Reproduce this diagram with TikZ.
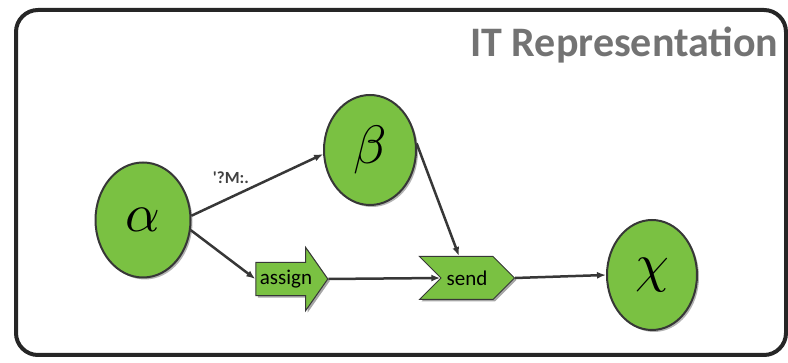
\documentclass[tikz,border=0pt]{standalone}
\usepackage{fontspec}
\newfontfamily\titlefont{Carlito}
\usetikzlibrary{arrows.meta, positioning, shapes.geometric, shapes.symbols, shapes.arrows, shadows}
\definecolor{leafgreen}{RGB}{122,193,66}
\definecolor{edgegray}{RGB}{55,55,55}
\newcommand{\biggreek}[1]{\scalebox{5.4}{$#1$}}

\begin{document}
\begin{tikzpicture}[x=1pt, y=1pt,
    state/.style={ellipse, draw=edgegray, line width=2pt, fill=leafgreen, inner sep=0pt,
        drop shadow={shadow xshift=2pt, shadow yshift=-2pt, opacity=0.6}},
    task/.style={draw=edgegray, line width=1pt, fill=leafgreen, inner xsep=0pt,
        font=\titlefont\fontsize{21}{21}\selectfont,
        drop shadow={shadow xshift=2pt, shadow yshift=-2pt, opacity=0.7}},
    flow/.style={-{Latex[length=9pt, width=7pt]}, edgegray, line width=2.5pt}]
    \useasboundingbox (0,0) rectangle (788,363);

    % Frame round the whole representation
    \draw[line width=4pt, rounded corners=22pt, black!85] (16,8) rectangle (786,353);
    \node[anchor=east, text=black!55, font=\titlefont\bfseries\fontsize{42}{44}\selectfont] (title) at (782,318) {IT Representation};

    % States
    \node[state, minimum width=95pt, minimum height=115pt] (alpha) at (143,143) {\biggreek{\alpha}};
    \node[state, minimum width=92pt, minimum height=110pt] (beta) at (370,213) {\biggreek{\beta}};
    \node[state, minimum width=90pt, minimum height=110pt] (chi) at (652,88) {\biggreek{\chi}};

    % Tasks
    \node[task, single arrow, single arrow head extend=15pt, single arrow tip angle=110,
        inner ysep=7pt, minimum height=72pt] (assign) at (286,84) {assign};
    \node[task, signal, signal to=east, signal from=west, inner ysep=7pt,
        minimum width=95pt, minimum height=43pt] (send) at (467,85) {send};

    % Connectors
    \draw[flow] (alpha.5) -- (beta.185) node[pos=0.3, above=9pt, text=black!75, font=\titlefont\bfseries\fontsize{17}{17}\selectfont] {'?M:.};
    \draw[flow] (alpha.-12) -- (assign.west);
    \draw[flow] (assign.east) -- (send.west);
    \draw[flow] (beta.8) -- ([xshift=-8pt]send.north);
    \draw[flow] (send.east) -- (chi.west);
\end{tikzpicture}
\end{document}
